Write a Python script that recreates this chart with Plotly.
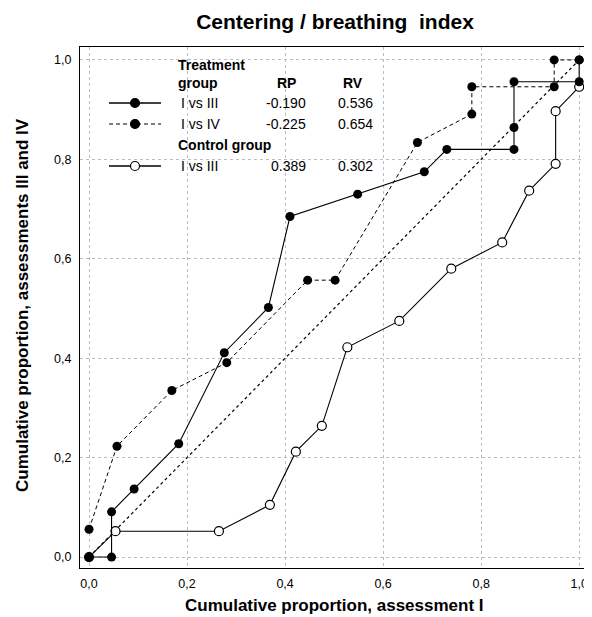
import plotly.graph_objects as go

# ---- data ----
treat_13_x = [0.0, 0.046, 0.046, 0.092, 0.183, 0.276, 0.366, 0.410, 0.548, 0.684, 0.730, 0.867, 0.867, 0.867, 1.0, 1.0]
treat_13_y = [0.0, 0.0, 0.091, 0.137, 0.228, 0.411, 0.502, 0.685, 0.730, 0.775, 0.820, 0.820, 0.864, 0.956, 0.956, 1.0]

treat_14_x = [0.0, 0.057, 0.169, 0.281, 0.446, 0.502, 0.670, 0.781, 0.781, 0.949, 0.949, 1.0]
treat_14_y = [0.056, 0.223, 0.335, 0.391, 0.557, 0.557, 0.834, 0.891, 0.946, 0.946, 1.0, 1.0]

ctrl_13_x = [0.0, 0.054, 0.265, 0.369, 0.422, 0.475, 0.527, 0.633, 0.739, 0.843, 0.898, 0.952, 0.952, 1.0]
ctrl_13_y = [0.0, 0.052, 0.052, 0.105, 0.212, 0.264, 0.422, 0.475, 0.580, 0.633, 0.737, 0.791, 0.897, 0.946]

diag = [0.0, 1.0]

legend_labels = ["I vs III", "I vs IV", "I vs III"]
rp_values = ["-0.190", "-0.225", "0.389"]
rv_values = ["0.536", "0.654", "0.302"]
tick_vals = [0.0, 0.2, 0.4, 0.6, 0.8, 1.0]

# page offset of the plot div (default body margin)
OFF = 8
W, H = 592 - OFF, 617 - OFF
ML, MR, MT, MB = 80 - OFF, 4, 47 - OFF, 49
PW, PH = W - ML - MR, H - MT - MB
FAM = "Arial, Liberation Sans, sans-serif"


def px(xp):
    # xp: page pixel x
    return (xp - OFF - ML) / PW


def py(yp):
    # yp: page pixel y
    return (H - MB - (yp - OFF)) / PH


fig = go.Figure()
fig.add_trace(go.Scatter(x=diag, y=diag, mode="lines",
                         line=dict(color="black", width=1.2, dash="dot"),
                         showlegend=False, hoverinfo="skip"))
fig.add_trace(go.Scatter(x=treat_14_x, y=treat_14_y, mode="lines+markers",
                         line=dict(color="black", width=1, dash="4px,3px"),
                         marker=dict(size=9, color="black"), showlegend=False))
fig.add_trace(go.Scatter(x=ctrl_13_x, y=ctrl_13_y, mode="lines+markers",
                         line=dict(color="black", width=1.1),
                         marker=dict(size=9, color="white", line=dict(color="black", width=1.2)),
                         showlegend=False))
fig.add_trace(go.Scatter(x=treat_13_x, y=treat_13_y, mode="lines+markers",
                         line=dict(color="black", width=1.1),
                         marker=dict(size=9, color="black"), showlegend=False))

ann = []


def txt(t, xp, yp, anchor="left", bold=False, size=14, angle=0):
    ann.append(dict(text=("<b>%s</b>" % t) if bold else t, x=px(xp), y=py(yp),
                    xref="paper", yref="paper", xanchor=anchor, yanchor="middle",
                    showarrow=False, textangle=angle,
                    font=dict(family=FAM, size=size, color="black")))


# ---- custom legend table ----
txt("Treatment", 176, 65, bold=True)
txt("group", 176, 83, bold=True)
txt("RP", 286, 83, anchor="center", bold=True)
txt("RV", 353, 83, anchor="center", bold=True)
txt("Control group", 176, 145, bold=True)

# axis titles
txt("Cumulative proportion, assessment I", 334, 605, anchor="center", bold=True, size=17)
txt("Cumulative proportion, assessments III and IV", 22, 305, anchor="center", bold=True, size=17, angle=-90)

rows = [103, 124, 166]
styles = [dict(dash="solid", fill="black"), dict(dash="4px,3px", fill="black"),
          dict(dash="solid", fill="white")]
shapes = []
for lab, rp, rv, ry, st in zip(legend_labels, rp_values, rv_values, rows, styles):
    txt(lab, 179, ry)
    txt(rp, 308, ry, anchor="right")
    txt(rv, 375, ry, anchor="right")
    shapes.append(dict(type="line", xref="paper", yref="paper",
                       x0=px(109), x1=px(161), y0=py(ry), y1=py(ry),
                       line=dict(color="black", width=1.3 if st["dash"] == "solid" else 1.1,
                                 dash=st["dash"])))
    shapes.append(dict(type="circle", xref="paper", yref="paper",
                       xsizemode="pixel", ysizemode="pixel",
                       xanchor=px(135), yanchor=py(ry),
                       x0=-4.5, x1=4.5, y0=-4.5, y1=4.5,
                       fillcolor=st["fill"], line=dict(color="black", width=1.2)))

axis_common = dict(tickvals=tick_vals, tickformat=".1f", showgrid=True,
                   gridcolor="#bdbdbd", griddash="dot", gridwidth=1,
                   showline=True, linecolor="black", linewidth=1.3, mirror=True,
                   zeroline=False, ticks="", automargin=False,
                   tickfont=dict(family=FAM, size=12.5, color="black"))

fig.update_layout(
    width=W, height=H,
    margin=dict(l=ML, r=MR, t=MT, b=MB),
    plot_bgcolor="white", paper_bgcolor="white",
    separators=",.",
    title=dict(text="<b>Centering / breathing  index</b>", xref="container",
               x=(335 - OFF) / W, xanchor="center",
               y=1 - (22 - OFF) / H, yanchor="middle",
               font=dict(family=FAM, size=21, color="black")),
    xaxis=dict(range=[-0.0184, 1.018], ticklabelstandoff=4, **axis_common),
    yaxis=dict(range=[-0.022, 1.026], ticklabelstandoff=5, **axis_common),
    annotations=ann, shapes=shapes,
)

fig.write_html("out.html")
